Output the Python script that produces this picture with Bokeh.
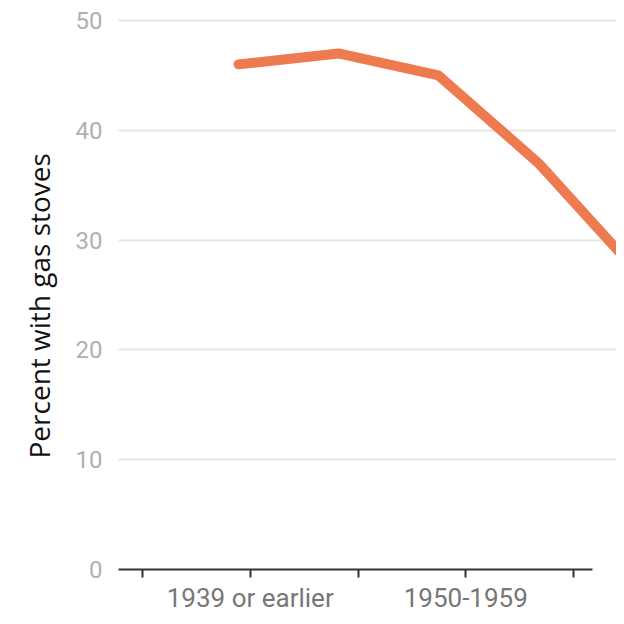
from bokeh.plotting import figure
from bokeh.models import Range1d, LinearAxis, FixedTicker, Title
from bokeh.embed import file_html
from bokeh.resources import INLINE

# Data
decades = ["1939 or earlier", "1940-1949", "1950-1959", "1960-1969", "1970-1979"]
pct_gas = [46, 47, 45, 37, 27]
tick_labels = ["", "1939 or earlier", "", "1950-1959", ""]
y_ticks = [0, 10, 20, 30, 40, 50]
y_title = "Percent with gas stoves"

line_x = list(range(len(decades)))
tick_x = list(range(len(tick_labels)))

p = figure(width=616, height=616, output_backend="svg", toolbar_location=None,
           x_range=Range1d(-0.2227, 4.399), y_range=Range1d(0, 51),
           min_border_left=118, min_border_right=0, min_border_top=9,
           min_border_bottom=47, x_axis_location=None, y_axis_location=None)
p.outline_line_color = None
p.background_fill_color = "white"
p.border_fill_color = "white"

p.extra_x_ranges = {"line": Range1d(-1.2, 3.78)}

# y axis
yaxis = LinearAxis(ticker=FixedTicker(ticks=y_ticks))
yaxis.axis_line_color = None
yaxis.major_tick_line_color = None
yaxis.minor_tick_line_color = None
yaxis.major_label_text_font = "Roboto"
yaxis.major_label_text_font_size = "24px"
yaxis.major_label_text_color = "#b0b0b0"
yaxis.major_label_standoff = 10
p.add_layout(yaxis, "left")

ytitle = Title(text=y_title, align="left", offset=111,
               standoff=26, vertical_align="top", text_font="Open Sans",
               text_font_style="normal", text_font_size="28px",
               text_color="#111111")
p.add_layout(ytitle, "left")

# x axis
xaxis = LinearAxis(ticker=FixedTicker(ticks=tick_x))
xaxis.bounds = (-0.2227, 4.18)
xaxis.major_label_overrides = {i: lab for i, lab in enumerate(tick_labels)}
xaxis.axis_line_color = "#333333"
xaxis.axis_line_width = 2
xaxis.major_tick_line_color = "#333333"
xaxis.major_tick_line_width = 2
xaxis.major_tick_out = 8
xaxis.major_tick_in = 0
xaxis.minor_tick_line_color = None
xaxis.major_label_text_font = "Roboto"
xaxis.major_label_text_font_size = "26px"
xaxis.major_label_text_color = "#777777"
xaxis.major_label_standoff = 5
p.add_layout(xaxis, "below")

p.xgrid.grid_line_color = None
p.ygrid.ticker = FixedTicker(ticks=y_ticks[1:])
p.ygrid.grid_line_color = "#e6e6e6"
p.ygrid.grid_line_width = 2

p.line(line_x, pct_gas, x_range_name="line", line_color="#EE7B50",
       line_width=10, line_cap="round", line_join="round")

open("out.html", "w").write(file_html(p, INLINE))
